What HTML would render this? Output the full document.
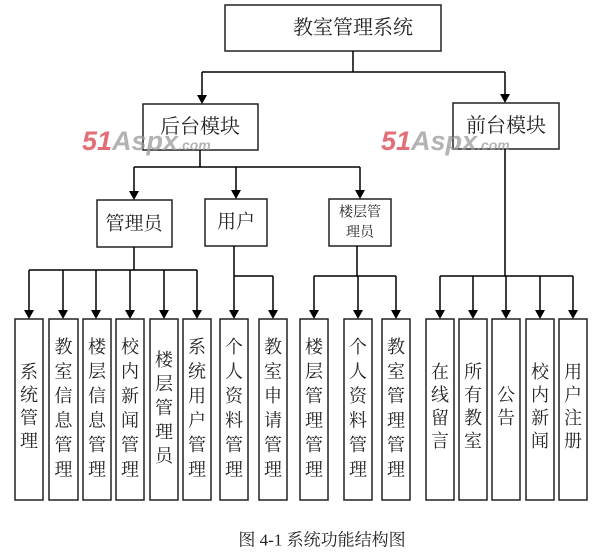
<!DOCTYPE html>
<html><head><meta charset="utf-8"><style>
html,body{margin:0;padding:0;background:#fff;}
svg{display:block;}
text{font-family:"Liberation Serif","Noto Serif CJK SC",serif;fill:#222;}
</style></head><body>
<svg width="610" height="552" viewBox="0 0 610 552" xmlns="http://www.w3.org/2000/svg">
<g stroke="#222" stroke-width="1.5" fill="#fff">
<rect x="225" y="5" width="216" height="46"/>
<rect x="143" y="104" width="115" height="46"/>
<rect x="453" y="103" width="106" height="46"/>
<rect x="97" y="200" width="75" height="47"/>
<rect x="205" y="199" width="62" height="47"/>
<rect x="329" y="199" width="62" height="47"/>
</g>
<g stroke="#000" stroke-width="1.5" fill="none">
<path d="M353 51V72M202 72H505M202 72V96M505 72V95"/>
<path d="M200 150V167M134 167H360M134 167V192M236 167V191M360 167V191"/>
<path d="M134 247V270M29 270H197"/>
<path d="M29 270V311M63 270V311M96 270V311M130 270V311M164 270V311M197 270V311"/>
<path d="M234 246V276H273M234 276V311M273 276V311"/>
<path d="M357 246V276M314 276H396M314 276V311M358 276V311M396 276V311"/>
<path d="M505 149V276M440 276H573M440 276V311M473 276V311M506 276V311M540 276V311M573 276V311"/>
</g>
<g fill="#000">
<path d="M197 95h10l-5 9z"/><path d="M500 94h10l-5 9z"/>
<path d="M129 191h10l-5 9z"/><path d="M231 190h10l-5 9z"/><path d="M355 190h10l-5 9z"/>
<path d="M24 310h10l-5 9z"/><path d="M58 310h10l-5 9z"/><path d="M91 310h10l-5 9z"/><path d="M125 310h10l-5 9z"/><path d="M159 310h10l-5 9z"/><path d="M192 310h10l-5 9z"/>
<path d="M229 310h10l-5 9z"/><path d="M268 310h10l-5 9z"/>
<path d="M309 310h10l-5 9z"/><path d="M353 310h10l-5 9z"/><path d="M391 310h10l-5 9z"/>
<path d="M435 310h10l-5 9z"/><path d="M468 310h10l-5 9z"/><path d="M501 310h10l-5 9z"/><path d="M535 310h10l-5 9z"/><path d="M568 310h10l-5 9z"/>
</g>
<g stroke="#222" stroke-width="1.5" fill="#fff">
<rect x="15" y="319" width="28" height="181"/>
<rect x="49" y="319" width="29" height="181"/>
<rect x="83" y="319" width="28" height="181"/>
<rect x="116" y="319" width="28" height="181"/>
<rect x="150" y="319" width="28" height="181"/>
<rect x="183" y="319" width="28" height="181"/>
<rect x="220" y="319" width="28" height="181"/>
<rect x="259" y="319" width="28" height="181"/>
<rect x="300" y="319" width="28" height="181"/>
<rect x="344" y="319" width="28" height="181"/>
<rect x="382" y="319" width="28" height="181"/>
<rect x="426" y="319" width="28" height="181"/>
<rect x="459" y="319" width="28" height="181"/>
<rect x="492" y="319" width="28" height="181"/>
<rect x="526" y="319" width="28" height="181"/>
<rect x="559" y="319" width="28" height="181"/>
</g>
<g font-size="20" text-anchor="middle" dominant-baseline="central">
<text x="353" y="28">教室管理系统</text>
<text x="200" y="127">后台模块</text>
<text x="506" y="126">前台模块</text>
<text x="134" y="224" font-size="19">管理员</text>
<text x="236" y="222" font-size="19">用户</text>
<text x="360" y="213" font-size="14">楼层管</text>
<text x="360" y="233" font-size="14">理员</text>
</g>
<g font-size="18" text-anchor="middle" dominant-baseline="central">
<text x="29" y="372">系</text><text x="29" y="395">统</text><text x="29" y="418">管</text><text x="29" y="441">理</text>
<text x="63.5" y="347">教</text><text x="63.5" y="371.5">室</text><text x="63.5" y="396">信</text><text x="63.5" y="420.5">息</text><text x="63.5" y="445">管</text><text x="63.5" y="469.5">理</text>
<text x="97" y="347">楼</text><text x="97" y="371.5">层</text><text x="97" y="396">信</text><text x="97" y="420.5">息</text><text x="97" y="445">管</text><text x="97" y="469.5">理</text>
<text x="130" y="347">校</text><text x="130" y="371.5">内</text><text x="130" y="396">新</text><text x="130" y="420.5">闻</text><text x="130" y="445">管</text><text x="130" y="469.5">理</text>
<text x="164" y="360">楼</text><text x="164" y="384">层</text><text x="164" y="408">管</text><text x="164" y="432">理</text><text x="164" y="456">员</text>
<text x="197" y="347">系</text><text x="197" y="371.5">统</text><text x="197" y="396">用</text><text x="197" y="420.5">户</text><text x="197" y="445">管</text><text x="197" y="469.5">理</text>
<text x="234" y="347">个</text><text x="234" y="371.5">人</text><text x="234" y="396">资</text><text x="234" y="420.5">料</text><text x="234" y="445">管</text><text x="234" y="469.5">理</text>
<text x="273" y="347">教</text><text x="273" y="371.5">室</text><text x="273" y="396">申</text><text x="273" y="420.5">请</text><text x="273" y="445">管</text><text x="273" y="469.5">理</text>
<text x="314" y="347">楼</text><text x="314" y="371.5">层</text><text x="314" y="396">管</text><text x="314" y="420.5">理</text><text x="314" y="445">管</text><text x="314" y="469.5">理</text>
<text x="358" y="347">个</text><text x="358" y="371.5">人</text><text x="358" y="396">资</text><text x="358" y="420.5">料</text><text x="358" y="445">管</text><text x="358" y="469.5">理</text>
<text x="396" y="347">教</text><text x="396" y="371.5">室</text><text x="396" y="396">管</text><text x="396" y="420.5">理</text><text x="396" y="445">管</text><text x="396" y="469.5">理</text>
<text x="440" y="372">在</text><text x="440" y="395">线</text><text x="440" y="418">留</text><text x="440" y="441">言</text>
<text x="473" y="372">所</text><text x="473" y="395">有</text><text x="473" y="418">教</text><text x="473" y="441">室</text>
<text x="506" y="395">公</text><text x="506" y="418">告</text>
<text x="540" y="372">校</text><text x="540" y="395">内</text><text x="540" y="418">新</text><text x="540" y="441">闻</text>
<text x="573" y="372">用</text><text x="573" y="395">户</text><text x="573" y="418">注</text><text x="573" y="441">册</text>
</g>
<text x="322" y="540" font-size="17" text-anchor="middle" dominant-baseline="central">图 4-1 系统功能结构图</text>
<g font-style="italic" font-weight="bold" opacity="0.75">
<text x="82" y="150" font-size="27" style="fill:#d9404a;font-family:'Liberation Sans',sans-serif">51<tspan style="fill:#9a9a9a">Aspx</tspan><tspan font-size="14" style="fill:#9a9a9a">.com</tspan></text>
<text x="381" y="150" font-size="27" style="fill:#d9404a;font-family:'Liberation Sans',sans-serif">51<tspan style="fill:#9a9a9a">Aspx</tspan><tspan font-size="14" style="fill:#9a9a9a">.com</tspan></text>
</g>
</svg>
</body></html>
